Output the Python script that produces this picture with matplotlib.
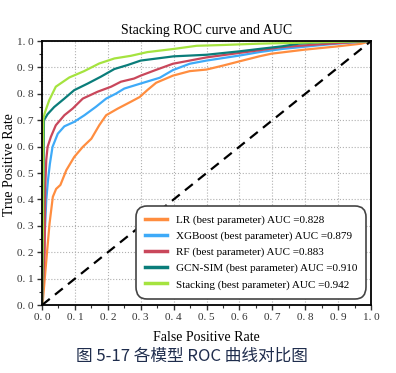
import numpy as np
import matplotlib
matplotlib.use("Agg")
import matplotlib.pyplot as plt
from matplotlib.ticker import MultipleLocator

plt.rcParams['font.family'] = ['Liberation Serif', 'DejaVu Serif']

# ROC points
lr_fpr = [0, 0.003, 0.008, 0.015, 0.023, 0.033, 0.043, 0.056, 0.074, 0.098, 0.124, 0.15, 0.174, 0.195,
          0.23, 0.27, 0.297, 0.32, 0.347, 0.398, 0.449, 0.5, 0.55, 0.6, 0.66, 0.697, 0.796, 0.9, 0.97, 1.0]
lr_tpr = [0, 0.02, 0.094, 0.195, 0.309, 0.41, 0.44, 0.455, 0.511, 0.561, 0.599, 0.63, 0.681, 0.719,
          0.744, 0.77, 0.788, 0.814, 0.842, 0.869, 0.886, 0.892, 0.907, 0.923, 0.942, 0.952, 0.967, 0.98, 0.99, 1.0]

xgb_fpr = [0, 0.006, 0.013, 0.018, 0.024, 0.032, 0.048, 0.068, 0.098, 0.129, 0.164, 0.195, 0.225, 0.25,
           0.297, 0.358, 0.398, 0.449, 0.5, 0.6, 0.66, 0.73, 0.835, 0.895, 1.0]
xgb_tpr = [0, 0.2, 0.397, 0.47, 0.535, 0.599, 0.649, 0.677, 0.694, 0.719, 0.751, 0.782, 0.801, 0.82,
           0.838, 0.861, 0.89, 0.914, 0.926, 0.945, 0.958, 0.97, 0.983, 0.99, 1.0]

rf_fpr = [0, 0.008, 0.01, 0.013, 0.017, 0.027, 0.042, 0.068, 0.093, 0.124, 0.169, 0.21, 0.24, 0.28,
          0.3, 0.347, 0.398, 0.449, 0.5, 0.6, 0.66, 0.73, 0.835, 1.0]
rf_tpr = [0, 0.2, 0.45, 0.55, 0.599, 0.637, 0.681, 0.719, 0.744, 0.782, 0.808, 0.827, 0.846, 0.858,
          0.869, 0.891, 0.914, 0.926, 0.938, 0.955, 0.965, 0.977, 0.987, 1.0]

gcn_fpr = [0, 0.004, 0.006, 0.017, 0.037, 0.068, 0.098, 0.139, 0.179, 0.22, 0.26, 0.3, 0.4, 0.5,
           0.6, 0.66, 0.73, 0.78, 0.84, 1.0]
gcn_tpr = [0, 0.4, 0.70, 0.723, 0.75, 0.782, 0.814, 0.839, 0.865, 0.894, 0.909, 0.926, 0.942, 0.948,
           0.961, 0.97, 0.98, 0.99, 0.995, 1.0]

stk_fpr = [0, 0.003, 0.004, 0.009, 0.022, 0.042, 0.083, 0.128, 0.174, 0.22, 0.27, 0.32, 0.4, 0.47,
           0.55, 0.66, 0.73, 0.83, 1.0]
stk_tpr = [0, 0.3, 0.706, 0.73, 0.776, 0.827, 0.862, 0.886, 0.915, 0.934, 0.944, 0.958, 0.97, 0.982,
           0.985, 0.99, 0.992, 0.995, 1.0]

labels = ["LR (best parameter) AUC =0.828",
          "XGBoost (best parameter) AUC =0.879",
          "RF (best parameter) AUC =0.883",
          "GCN-SIM (best parameter) AUC =0.910",
          "Stacking (best parameter) AUC =0.942"]
colors = ['#FF8D3F', '#3EAAF8', '#C9475B', '#0A7D7A', '#A5E33F']

ticks = np.arange(0, 1.01, 0.1)
tick_labels = ['0. 0', '0. 1', '0. 2', '0. 3', '0. 4', '0. 5', '0. 6', '0. 7', '0. 8', '0. 9', '1. 0']

fig = plt.figure(figsize=(3.96, 3.73), dpi=100)
ax = fig.add_axes([0.106, 0.182, 0.831, 0.708])

curves = [(lr_fpr, lr_tpr), (xgb_fpr, xgb_tpr), (rf_fpr, rf_tpr), (gcn_fpr, gcn_tpr), (stk_fpr, stk_tpr)]
for (fx, fy), lab, c in zip(curves, labels, colors):
    ax.plot(fx, fy, color=c, lw=1.6, label=lab)

ax.plot([0, 1], [0, 1], color='black', lw=1.6, linestyle=(0, (4.5, 3)))

ax.set_xlim(0, 1)
ax.set_ylim(0, 1)
ax.set_xticks(ticks)
ax.set_yticks(ticks)
ax.set_xticklabels(tick_labels)
ax.set_yticklabels(tick_labels)
ax.xaxis.set_minor_locator(MultipleLocator(0.05))
ax.yaxis.set_minor_locator(MultipleLocator(0.05))
ax.tick_params(which='major', direction='out', length=3.5, width=1, labelsize=8, colors='#333333', pad=2.5)
ax.tick_params(which='minor', direction='out', length=2, width=0.8, colors='#333333')
ax.grid(True, which='major', linestyle=':', color='#b0b0b0', lw=0.8)
for s in ax.spines.values():
    s.set_linewidth(1.3)
    s.set_color('black')

ax.set_title("Stacking ROC curve and AUC", fontsize=10, pad=5)
ax.set_xlabel("False Positive Rate", fontsize=10, labelpad=6)
ax.set_ylabel("True Positive Rate", fontsize=10)
ax.yaxis.set_label_coords(-0.08, 0.534)

leg = ax.legend(loc='lower right', fontsize=8, fancybox=True, framealpha=1,
                edgecolor='#444444', handlelength=2.0, labelspacing=0.55,
                borderpad=0.8, borderaxespad=0, bbox_to_anchor=(0.985, 0.025))
leg.get_frame().set_linewidth(1.2)
leg.get_frame().set_boxstyle('round', pad=0, rounding_size=1.0)
for line in leg.get_lines():
    line.set_linewidth(2.5)

fig.text(0.485, 0.045, "图 5-17 各模型 ROC 曲线对比图", ha='center', va='center',
         fontsize=12, color='#1F2D4D', family=['Noto Sans CJK SC', 'DejaVu Sans'])

fig.savefig("out.png", dpi=100)
